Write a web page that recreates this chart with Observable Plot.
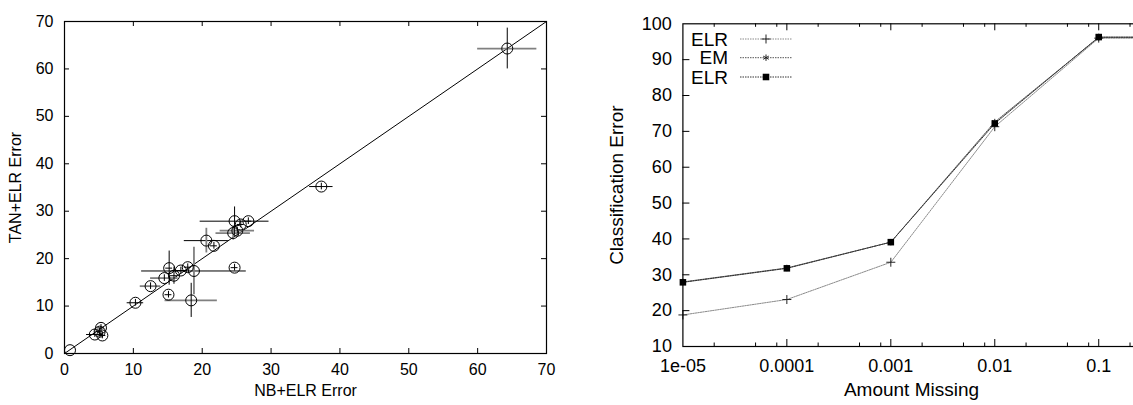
<!DOCTYPE html>
<html><head><meta charset="utf-8">
<script src="https://cdn.jsdelivr.net/npm/d3@7"></script>
<script src="https://cdn.jsdelivr.net/npm/@observablehq/plot@0.6"></script>
<style>
html,body{margin:0;padding:0;overflow:hidden;background:#fff;width:1133px;height:405px;position:relative}
#left{position:absolute;left:0;top:0;width:560px;height:405px}
#right{position:absolute;left:560px;top:0;width:600px;height:405px}
#left svg,#right svg{max-width:none !important;height:405px !important}
#legend{position:absolute;left:0;top:0;pointer-events:none}
svg text{font-family:"Liberation Sans",Arial,Helvetica,sans-serif}
</style></head><body>
<div id="left"></div><div id="right"></div><svg id="legend" width="1133" height="405"></svg>
<script>
// ---------- Left panel: NB+ELR vs TAN+ELR error ----------
const nbElrError  = [0.8, 4.4, 5.5, 5.3, 5.1, 10.3, 12.5, 14.5, 15.2, 15.9, 15.1, 16.9, 17.9, 18.8, 18.4, 20.6, 21.7, 24.7, 24.7, 25.6, 26.7, 24.5, 25.1, 37.3, 64.3];
const tanElrError = [0.7, 4.0, 3.8, 5.4, 4.6, 10.7, 14.2, 15.9, 18.0, 16.4, 12.4, 17.5, 18.2, 17.4, 11.2, 23.8, 22.7, 18.1, 27.9, 27.2, 27.9, 25.4, 25.9, 35.2, 64.3];
const nbElrSpread = [0, 1.2, 0.5, 0.5, 0.5, 1.2, 1.5, 2.0, 0.5, 0.5, 0.5, 1.0, 0.5, 7.6, 3.8, 3.2, 0.5, 0.5, 5.0, 0.5, 0.5, 2.5, 2.5, 1.7, 4.3];
const tanElrSpread= [0, 0.6, 0.7, 0.7, 0.7, 0.7, 0.7, 0.7, 3.6, 1.8, 0.7, 0.7, 0.7, 5.0, 3.6, 2.6, 0.7, 0.7, 3.0, 0.7, 0.7, 1.5, 0.7, 0.7, 4.3];
const nbSpreadRun = ["a","a","a","a","a","a","b","b","a","a","a","a","a","a","b","a","a","a","a","a","a","b","b","a","b"];
const tanSpreadRun= ["a","a","a","a","a","a","a","a","a","a","a","a","a","b","a","b","a","a","a","a","a","b","a","a","a"];
const diagonal = [0, 70];
const leftTicks = [0, 10, 20, 30, 40, 50, 60, 70];

// ---------- Right panel: classification error vs amount missing ----------
const amountMissing = [1e-5, 1e-4, 1e-3, 1e-2, 1e-1, 1];
const elrPlus   = [18.8, 23.1, 33.5, 71.3, 96.0, 96.0];
const emStar    = [28.0, 31.9, 39.1, 72.6, 96.2, 96.2];
const elrSquare = [27.9, 31.8, 39.1, 72.2, 96.3, 96.3];
const seriesNames = ["ELR", "EM", "ELR"];
const rightXTicks = [1e-5, 1e-4, 1e-3, 1e-2, 1e-1];
const rightXTickLabels = ["1e-05", "0.0001", "0.001", "0.01", "0.1"];
const rightYTicks = [10, 20, 30, 40, 50, 60, 70, 80, 90, 100];

const FONT = '"Liberation Sans",Arial,Helvetica,sans-serif';
const runColor = r => r === "a" ? "#000" : "#808080";
const runWidth = r => r === "a" ? 1 : 1.8;

// Left chart
{
  const W = 560, H = 405, ml = 64, mr = 14, mt = 21, mb = 52;
  const iw = W - ml - mr, ih = H - mt - mb;
  const pts = nbElrError.map((x, i) => ({x, y: tanElrError[i], xe: nbElrSpread[i], ye: tanElrSpread[i], xr: nbSpreadRun[i], yr: tanSpreadRun[i]}));
  const chart = Plot.plot({
    width: W, height: H, marginLeft: ml, marginRight: mr, marginTop: mt, marginBottom: mb,
    style: {fontFamily: FONT, fontSize: "16px", background: "white", color: "#000"},
    x: {domain: [0, 70], label: null},
    y: {domain: [0, 70], label: null},
    marks: [
      Plot.line(diagonal, {x: d => d, y: d => d, stroke: "#000", strokeWidth: 1}),
      Plot.ruleY(pts.filter(d => d.xe > 0), {y: "y", x1: d => d.x - d.xe, x2: d => d.x + d.xe, stroke: d => runColor(d.xr), strokeWidth: d => runWidth(d.xr)}),
      Plot.ruleX(pts.filter(d => d.ye > 0), {x: "x", y1: d => d.y - d.ye, y2: d => d.y + d.ye, stroke: d => runColor(d.yr), strokeWidth: d => runWidth(d.yr)}),
      Plot.dot(pts, {x: "x", y: "y", r: 5.5, stroke: "#000", fill: "none", strokeWidth: 1}),
      Plot.frame({stroke: "#000", strokeWidth: 1.2}),
      Plot.tickX(leftTicks.slice(1, -1), {x: d => d, insetTop: ih - 5, stroke: "#000"}),
      Plot.tickX(leftTicks.slice(1, -1), {x: d => d, insetBottom: ih - 5, stroke: "#000"}),
      Plot.tickY(leftTicks.slice(1, -1), {y: d => d, insetRight: iw - 5, stroke: "#000"}),
      Plot.tickY(leftTicks.slice(1, -1), {y: d => d, insetLeft: iw - 5, stroke: "#000"}),
      Plot.axisX({ticks: leftTicks, tickSize: 0, tickPadding: 10, label: null, anchor: "bottom"}),
      Plot.axisY({ticks: leftTicks, tickSize: 0, tickPadding: 11, label: null, anchor: "left"}),
      Plot.text(["NB+ELR Error"], {text: d => d, frameAnchor: "bottom", dy: 42, fontSize: 16, textAnchor: "middle"}),
      Plot.text(["TAN+ELR Error"], {text: d => d, frameAnchor: "left", dx: -49, rotate: -90, fontSize: 16, textAnchor: "middle"})
    ]
  });
  document.getElementById("left").appendChild(chart);
}

// Right chart
{
  const W = 590, H = 405, ml = 122.4, mr = 10.4, mt = 23.3, mb = 59;
  const iw = W - ml - mr, ih = H - mt - mb;
  const rows = [];
  amountMissing.forEach((x, i) => {
    rows.push({s: 0, x, y: elrPlus[i]});
    rows.push({s: 1, x, y: emStar[i]});
    rows.push({s: 2, x, y: elrSquare[i]});
  });
  const minor = [];
  for (let e = -5; e <= -1; e++) for (const m of [2, 5, 8]) minor.push(m * Math.pow(10, e));
  const lineStroke = ["#8a8a8a", "#555", "#333"];
  const chart = Plot.plot({
    width: W, height: H, marginLeft: ml, marginRight: mr, marginTop: mt, marginBottom: mb,
    style: {fontFamily: FONT, fontSize: "18px", background: "transparent", color: "#000"},
    x: {type: "log", domain: [1e-5, 0.25], label: null},
    y: {domain: [10, 100], label: null},
    marks: [
      Plot.line(rows.filter(d => d.s === 0), {x: "x", y: "y", stroke: lineStroke[0], strokeWidth: 1, strokeDasharray: "1.5,1", clip: true}),
      Plot.line(rows.filter(d => d.s === 1), {x: "x", y: "y", stroke: lineStroke[1], strokeWidth: 1, strokeDasharray: "1.5,1", clip: true}),
      Plot.line(rows.filter(d => d.s === 2), {x: "x", y: "y", stroke: lineStroke[2], strokeWidth: 1, strokeDasharray: "1.5,1", clip: true}),
      Plot.dot(rows.filter(d => d.s === 0 && d.x < 0.25), {x: "x", y: "y", symbol: "plus", r: 3, stroke: "#222", strokeWidth: 1}),
      Plot.dot(rows.filter(d => d.s === 1 && d.x < 0.25), {x: "x", y: "y", symbol: "asterisk", r: 3, stroke: "#222", strokeWidth: 1}),
      Plot.dot(rows.filter(d => d.s === 2 && d.x < 0.25), {x: "x", y: "y", symbol: "square", r: 3.7, fill: "#000", stroke: "none"}),
      Plot.frame({stroke: "#000", strokeWidth: 1.2}),
      Plot.tickX(rightXTicks.slice(1), {x: d => d, insetTop: ih - 7, stroke: "#000"}),
      Plot.tickX(rightXTicks.slice(1), {x: d => d, insetBottom: ih - 7, stroke: "#000"}),
      Plot.tickX(minor, {x: d => d, insetTop: ih - 3.5, stroke: "#000"}),
      Plot.tickX(minor, {x: d => d, insetBottom: ih - 3.5, stroke: "#000"}),
      Plot.tickY(rightYTicks.slice(1, -1), {y: d => d, insetRight: iw - 7, stroke: "#000"}),
      Plot.axisX({ticks: rightXTicks, tickFormat: d => rightXTickLabels[rightXTicks.indexOf(d)], tickSize: 0, tickPadding: 13, label: null, anchor: "bottom"}),
      Plot.axisY({ticks: rightYTicks, tickSize: 0, tickPadding: 11, label: null, anchor: "left"}),
      Plot.text(["Amount Missing"], {text: d => d, frameAnchor: "bottom", dy: 49, fontSize: 19, textAnchor: "middle"}),
      Plot.text(["Classification Error"], {text: d => d, frameAnchor: "left", dx: -65.8, rotate: -90, fontSize: 19, textAnchor: "middle"})
    ]
  });
  document.getElementById("right").appendChild(chart);

  // Legend (inside the right plot, top-left)
  const leg = d3.select("#legend");
  const rowY = [39, 57.7, 77];
  const styles = [
    {stroke: lineStroke[0], sym: d3.symbolPlus, fill: "none"},
    {stroke: lineStroke[1], sym: d3.symbolAsterisk, fill: "none"},
    {stroke: lineStroke[2], sym: d3.symbolSquare, fill: "#000"}
  ];
  seriesNames.forEach((name, i) => {
    const g = leg.append("g");
    g.append("text").attr("x", 728).attr("y", rowY[i]).attr("dy", "0.35em").attr("text-anchor", "end")
      .style("font-size", "19px").style("font-family", FONT).text(name);
    g.append("line").attr("x1", 740).attr("x2", 792).attr("y1", rowY[i]).attr("y2", rowY[i])
      .attr("stroke", styles[i].stroke).attr("stroke-dasharray", "1.5,1");
    const size = i === 2 ? Math.PI * 3.7 * 3.7 : Math.PI * 9;
    g.append("path").attr("transform", `translate(766,${rowY[i]})`)
      .attr("d", d3.symbol(styles[i].sym, size)())
      .attr("fill", styles[i].fill).attr("stroke", i === 2 ? "none" : "#222");
  });
}
</script>
</body></html>
